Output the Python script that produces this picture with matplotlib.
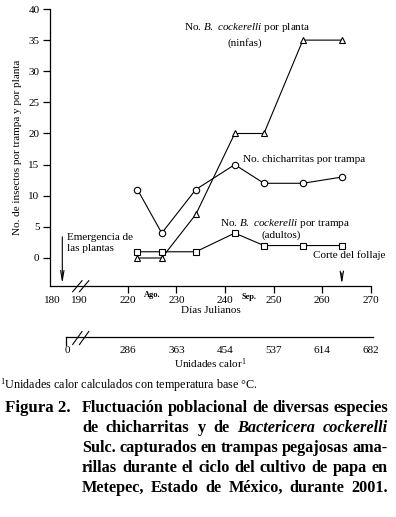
import matplotlib
matplotlib.use("Agg")
import matplotlib.pyplot as plt
from matplotlib.lines import Line2D

plt.rcParams['font.family'] = ['Liberation Serif', 'DejaVu Serif']
plt.rcParams['mathtext.fontset'] = 'custom'
plt.rcParams['mathtext.rm'] = 'Liberation Serif'
plt.rcParams['mathtext.it'] = 'Liberation Serif:italic'

# datos (días julianos)
dias = [222, 227, 234, 242, 248, 256, 264]
chicharritas = [11, 4, 11, 15, 12, 12, 13]
ninfas = [0, 0, 7, 20, 20, 35, 35]
adultos = [1, 1, 1, 4, 2, 2, 2]

# eje de días (los dos primeros van en la parte cortada del eje)
pos_dias = [204.4, 210, 220, 230, 240, 250, 260, 270]
etiq_dias = ['180', '190', '220', '230', '240', '250', '260', '270']
# eje de unidades calor
pos_calor = [207.6, 220, 230, 240, 250, 260, 270]
etiq_calor = ['0', '286', '363', '454', '537', '614', '682']

W, H = 396, 517
fs = 8
fig = plt.figure(figsize=(W / 100, H / 100), dpi=100)


def fx(x):
    return x / W


def fy(y):
    return 1 - y / H


ax = fig.add_axes([fx(50), fy(286), fx(371) - fx(50), fy(9) - fy(286)])
ax.set_xlim(204.03, 270)
ax.set_ylim(-4.5, 40)
for s in ['top', 'right']:
    ax.spines[s].set_visible(False)
for s in ['left', 'bottom']:
    ax.spines[s].set_linewidth(0.9)

ax.set_yticks(range(0, 41, 5))
ax.set_xticks(pos_dias)
ax.set_xticklabels(etiq_dias)
ax.tick_params(axis='both', labelsize=fs, width=0.9, length=5, pad=2.5)
ax.tick_params(axis='x', pad=2.5)
for t in ax.xaxis.get_major_ticks()[:2]:
    t.tick1line.set_visible(False)

ax.set_ylabel('No. de insectos por trampa y por planta', fontsize=fs, labelpad=5)
ax.set_xlabel('Días Julianos', fontsize=fs, labelpad=0.5)

mk = dict(color='black', lw=0.8, mfc='white', mec='black', mew=0.8, clip_on=False)
ax.plot(dias, chicharritas, marker='o', ms=4.6, **mk)
ax.plot(dias, ninfas, marker='^', ms=4.6, **mk)
ax.plot(dias, adultos, marker='s', ms=4.0, **mk)

# textos
ax.text(244.5, 37.0, r'No. $\mathit{B.}$ $\mathit{cockerelli}$ por planta', fontsize=fs,
        ha='center', va='center')
ax.text(244.1, 34.6, '(ninfas)', fontsize=fs, ha='center', va='center')
ax.text(243.7, 15.75, 'No. chicharritas por trampa', fontsize=fs, ha='left', va='center')
ax.text(252.4, 5.6, r'No. $\mathit{B.}$ $\mathit{cockerelli}$ por trampa', fontsize=fs,
        ha='center', va='center')
ax.text(251.6, 3.6, '(adultos)', fontsize=fs, ha='center', va='center')
ax.text(207.5, 2.4, 'Emergencia de\nlas plantas', fontsize=fs, ha='left', va='center',
        linespacing=1.3)
ax.text(265.5, 0.5, 'Corte del follaje', fontsize=fs, ha='center', va='center')
ax.text(225, -5.9, 'Ago.', fontsize=6, fontweight='bold', ha='center', va='center',
        clip_on=False)
ax.text(245, -6.2, 'Sep.', fontsize=6, fontweight='bold', ha='center', va='center',
        clip_on=False)

# flechas
flecha = dict(arrowstyle='->,head_length=0.7,head_width=0.12', lw=0.8, color='black',
              shrinkA=0, shrinkB=0)
ax.annotate('', xy=(206.56, -4.1), xytext=(206.56, 3.4), arrowprops=flecha,
            annotation_clip=False)
ax.annotate('', xy=(264, -4.2), xytext=(264, -2.4), arrowprops=flecha,
            annotation_clip=False)

# eje de unidades calor
ax2 = fig.add_axes([fx(50), fy(337.3), fx(371) - fx(50), 0.001])
ax2.set_xlim(ax.get_xlim())
ax2.set_yticks([])
for s in ['top', 'right', 'left']:
    ax2.spines[s].set_visible(False)
ax2.spines['bottom'].set_linewidth(0.9)
ax2.spines['bottom'].set_bounds(207.26, 270.4)
ax2.patch.set_visible(False)
ax2.set_xticks(pos_calor)
ax2.set_xticklabels(etiq_calor)
ax2.tick_params(axis='x', labelsize=fs, length=0, pad=6.5)
ax2.set_xlabel('Unidades calor$^{\\mathregular{1}}$', fontsize=fs, labelpad=0.5)

# cortes del eje y marca izquierda
lw = 0.8
for x0 in [72.7, 79.5]:
    fig.add_artist(Line2D([fx(x0), fx(x0 + 9.3)], [fy(291.7), fy(280.7)], color='black', lw=lw))
    fig.add_artist(Line2D([fx(x0), fx(x0 + 9.3)], [fy(344.5), fy(331.5)], color='black', lw=lw))
fig.add_artist(Line2D([fx(65.7), fx(65.7)], [fy(337.3), fy(344.5)], color='black', lw=0.9))

# nota al pie
fig.text(fx(0.5), fy(385), '$^{\\mathregular{1}}$Unidades calor calculados con temperatura base °C.',
         fontsize=8.7, ha='left', va='center')

# pie de figura justificado
lineas = [
    [('Fluctuación', 0), ('poblacional', 0), ('de', 0), ('diversas', 0), ('especies', 0)],
    [('de', 0), ('chicharritas', 0), ('y', 0), ('de', 0), ('Bactericera', 1), ('cockerelli', 1)],
    [('Sulc.', 0), ('capturados', 0), ('en', 0), ('trampas', 0), ('pegajosas', 0), ('ama-', 0)],
    [('rillas', 0), ('durante', 0), ('el', 0), ('ciclo', 0), ('del', 0), ('cultivo', 0),
     ('de', 0), ('papa', 0), ('en', 0)],
    [('Metepec,', 0), ('Estado', 0), ('de', 0), ('México,', 0), ('durante', 0), ('2001.', 0)],
]
x_izq, x_der = 82, 388
renderer = fig.canvas.get_renderer()

# tamaño de letra: el mayor que deja al menos 3.5 px entre palabras en todas las líneas
fc = 13.0
while True:
    ok = True
    for palabras in lineas:
        anchos = []
        for p, it in palabras:
            t = fig.text(0, 0, p, fontsize=fc, fontweight='bold',
                         fontstyle='italic' if it else 'normal')
            anchos.append(t.get_window_extent(renderer).width)
            t.remove()
        if (x_der - x_izq - sum(anchos)) / (len(palabras) - 1) < 3.5:
            ok = False
            break
    if ok:
        break
    fc -= 0.1

fig.text(fx(5), fy(408), 'Figura 2.', fontsize=fc + 0.5, fontweight='bold', ha='left', va='center')
for i, palabras in enumerate(lineas):
    y = fy(408 + 20 * i)
    textos = []
    for p, it in palabras:
        t = fig.text(0, y, p, fontsize=fc, fontweight='bold',
                     fontstyle='italic' if it else 'normal', ha='left', va='center')
        textos.append(t)
    anchos = [t.get_window_extent(renderer).width for t in textos]
    hueco = (x_der - x_izq - sum(anchos)) / (len(textos) - 1)
    x = x_izq
    for t, a in zip(textos, anchos):
        t.set_x(fx(x))
        x += a + hueco

fig.savefig('out.png', dpi=100)
